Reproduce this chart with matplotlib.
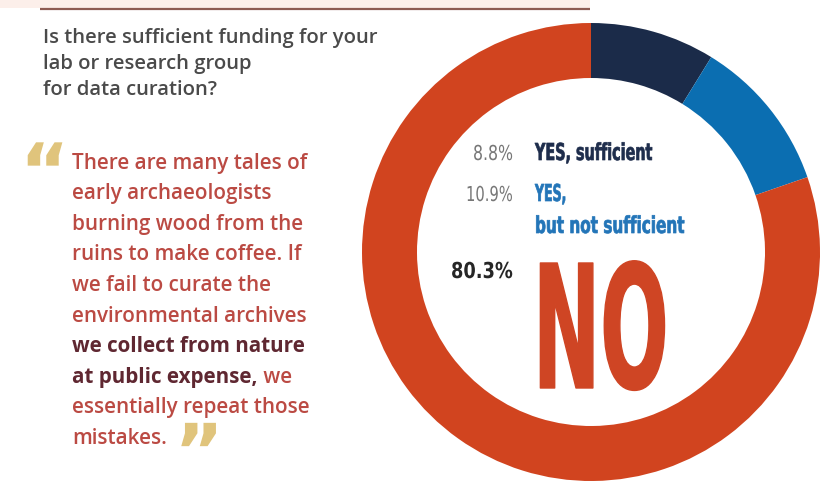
import matplotlib
matplotlib.use('Agg')
import matplotlib.pyplot as plt
from matplotlib import patheffects
from matplotlib.patches import Rectangle
from matplotlib.transforms import Affine2D

# ---------------- data ----------------
categories = ['YES, sufficient', 'YES, but not sufficient', 'NO']
shares = [8.8, 10.9, 80.3]
pct_labels = ['8.8%', '10.9%', '80.3%']
ring_colors = ['#1b2b49', '#0b6eb1', '#d1441f']

question_lines = ['Is there sufficient funding for your',
                  'lab or research group',
                  'for data curation?']
quote_lines = ['There are many tales of',
               'early archaeologists',
               'burning wood from the',
               'ruins to make coffee. If',
               'we fail to curate the',
               'environmental archives',
               'we collect from nature',
               'at public expense,',
               'essentially repeat those',
               'mistakes.']
quote_tail = ' we'

W, H = 829, 484


def Y(p):
    return H - p


class Scale(patheffects.AbstractPathEffect):
    """Draw the text path scaled about (x0, y0) in display px."""
    def __init__(self, sx, sy, x0, y0, lw=0.0):
        super().__init__()
        self.sx, self.sy, self.x0, self.y0, self.lw = sx, sy, x0, y0, lw

    def draw_path(self, renderer, gc, tpath, affine, rgbFace=None):
        t = affine + (Affine2D().translate(-self.x0, -self.y0)
                      .scale(self.sx, self.sy).translate(self.x0, self.y0))
        gc0 = renderer.new_gc()
        gc0.copy_properties(gc)
        if self.lw and rgbFace is not None:
            gc0.set_linewidth(self.lw)
            gc0.set_foreground(rgbFace)
        else:
            gc0.set_linewidth(0)
        renderer.draw_path(gc0, tpath, t, rgbFace)
        gc0.restore()


fig = plt.figure(figsize=(W / 100, H / 100), dpi=100)
fig.patch.set_facecolor('white')
ax = fig.add_axes([0, 0, 1, 1])
renderer = fig.canvas.get_renderer()

# donut
ax.pie(shares, colors=ring_colors, startangle=90, counterclock=False,
       center=(591, Y(252)), radius=229, frame=True,
       wedgeprops=dict(width=55, edgecolor='none', linewidth=0))
ax.set_xlim(0, W)
ax.set_ylim(0, H)
ax.set_aspect('equal')
ax.axis('off')

# header band and rule
ax.add_patch(Rectangle((0, Y(8)), 590, 8, color='#fcefea', lw=0))
ax.plot([40, 590], [Y(9), Y(9)], color='#8d5b52', lw=1.6, solid_capstyle='butt')


def fit_size(text_obj, target_w):
    w = text_obj.get_window_extent(renderer).width
    text_obj.set_fontsize(text_obj.get_fontsize() * target_w / w)
    return text_obj.get_fontsize()


def disp(x, y):
    return ax.transData.transform((x, y))


# question
q_y = [38, 64, 90]
t0 = ax.text(43, Y(q_y[0]), question_lines[0], ha='left', va='center',
             fontsize=10, color='#4a4a4a', family='Open Sans', fontweight='semibold')
qs = fit_size(t0, 335)
for ln, yy in zip(question_lines[1:], q_y[1:]):
    ax.text(43, Y(yy), ln, ha='left', va='center', fontsize=qs,
            color='#4a4a4a', family='Open Sans', fontweight='semibold')

# quote
quote_color = '#bb4a43'
bold_color = '#5f2731'
qx = 72
qy0, qdy = 163, 30.6
t1 = ax.text(qx, Y(qy0), quote_lines[0], ha='left', va='center', fontsize=10,
             color=quote_color, family='Open Sans', fontweight='semibold')
qfs = fit_size(t1, 236)
close_x = 180
for i, ln in enumerate(quote_lines[1:], start=1):
    bold = i in (6, 7)
    t = ax.text(qx, Y(qy0 + i * qdy), ln, ha='left', va='center', fontsize=qfs,
                color=bold_color if bold else quote_color, family='Open Sans',
                fontweight='bold' if bold else 'semibold')
    if i == 7:
        ext = t.get_window_extent(renderer)
        xe = ax.transData.inverted().transform((ext.x1, ext.y0))[0]
        ax.text(xe, Y(qy0 + i * qdy), quote_tail, ha='left', va='center', fontsize=qfs,
                color=quote_color, family='Open Sans', fontweight='semibold')
    if i == len(quote_lines) - 1:
        ext = t.get_window_extent(renderer)
        xe = ax.transData.inverted().transform((ext.x1, ext.y0))[0]
        close_x = xe + 9

# quotation marks (small text box, glyph drawn enlarged)
qm_color = '#e0c47c'
qm_scale = 4.0
to = ax.text(20, Y(197), '\u201c', ha='left', va='baseline', fontsize=54 / qm_scale,
             color=qm_color, family='DejaVu Sans', fontweight='bold')
to.set_path_effects([Scale(qm_scale, qm_scale, *disp(20, Y(197)))])
tc = ax.text(close_x, Y(437), '\u201e', ha='left', va='baseline', fontsize=54 / qm_scale,
             color=qm_color, family='DejaVu Sans', fontweight='bold')
tc.set_path_effects([Scale(qm_scale, qm_scale, *disp(close_x, Y(437)))])


# condensed labels
def cond_text(x, y_base, s, width, cap_px, color, ha='left', weight='bold', lw=0.0):
    size_pt = cap_px / 0.729 * 0.72
    t = ax.text(x, Y(y_base), s, ha=ha, va='baseline', fontsize=size_pt,
                color=color, fontweight=weight, family='DejaVu Sans')
    w = t.get_window_extent(renderer).width
    x0, y0 = disp(x, Y(y_base))
    t.set_path_effects([Scale((width - lw * 100 / 72) / w, 1.0, x0, y0, lw)])
    return t


pct_colors = ['#777777', '#777777', '#262626']
pct_weights = ['normal', 'normal', 'bold']
pct_base = [160, 201, 278]
pct_width = [40, 47, 62]
pct_cap = [15, 15, 16]
for lab, c, wgt, yb, wd, cp in zip(pct_labels, pct_colors, pct_weights, pct_base, pct_width, pct_cap):
    cond_text(513, yb, lab, wd, cp, c, ha='right', weight=wgt)

cond_text(535, 160, 'YES, sufficient', 118, 17, '#1e2d4c', lw=0.5)
cond_text(535, 201, 'YES,', 32, 17, '#2375b8', lw=0.5)
cond_text(535, 233, 'but not sufficient', 150, 17, '#2375b8', lw=0.5)
cond_text(533, 388, 'NO', 137, 125, '#cf4524', lw=1.0)

fig.savefig('out.png', dpi=100, facecolor='white')
